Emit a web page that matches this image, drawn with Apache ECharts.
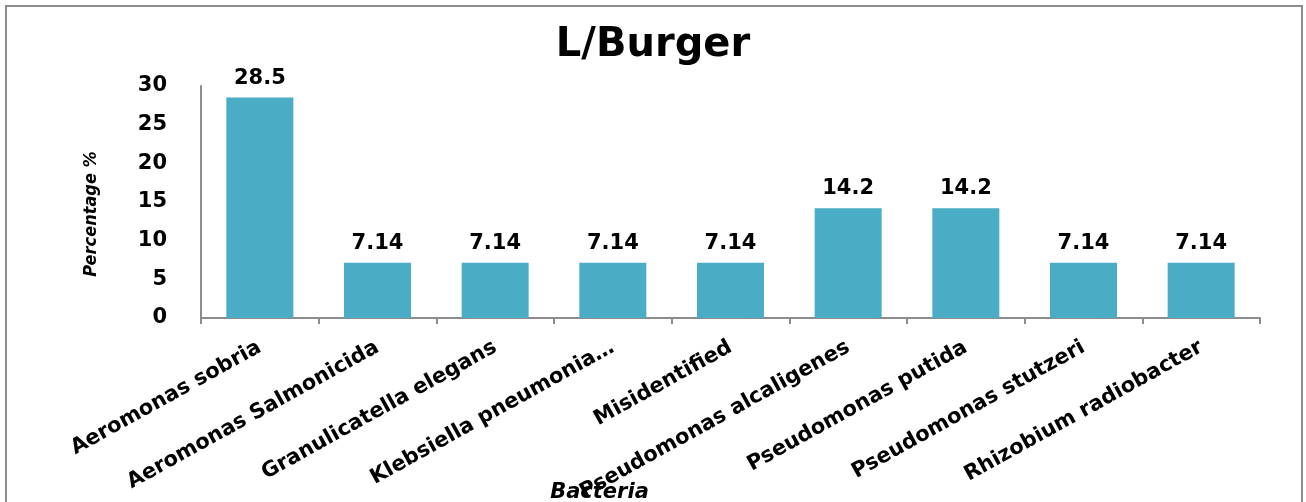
<!DOCTYPE html>
<html>
<head>
<meta charset="utf-8">
<script src="https://cdn.jsdelivr.net/npm/echarts@6/dist/echarts.min.js"></script>
<style>html,body{margin:0;padding:0;background:#fff;}#c{width:1306px;height:502px;}</style>
</head>
<body>
<div id="c"></div>
<script>
const title = 'L/Burger';
const categories = ['Aeromonas sobria','Aeromonas Salmonicida','Granulicatella elegans','Klebsiella pneumonia…','Misidentified','Pseudomonas alcaligenes','Pseudomonas putida','Pseudomonas stutzeri','Rhizobium radiobacter'];
const values = [28.5, 7.14, 7.14, 7.14, 7.14, 14.2, 14.2, 7.14, 7.14];
const valueLabels = ['28.5','7.14','7.14','7.14','7.14','14.2','14.2','7.14','7.14'];
const yAxisName = 'Percentage %';
const xAxisName = 'Bacteria';

const chart = echarts.init(document.getElementById('c'), null, {renderer:'canvas'});
chart.setOption({
  animation:false,
  backgroundColor:'#fff',
  graphic:[{type:'rect', shape:{x:6,y:6,width:1296,height:520}, style:{fill:'none', stroke:'#8c8c8c', lineWidth:2}, silent:true, z:-1}],
  title:{text:title, left:'center', top:21, textStyle:{fontFamily:'DejaVu Sans', fontWeight:'bold', fontSize:40, color:'#000'}},
  grid:{left:201, right:46, top:86, bottom:184, containLabel:false, outerBoundsMode:'none'},
  xAxis:{type:'category', data:categories,
    name:xAxisName, nameLocation:'middle', nameGap:164, nameMoveOverlap:false,
    nameTextStyle:{fontFamily:'DejaVu Sans', fontStyle:'italic', fontWeight:'bold', fontSize:21, color:'#000', padding:[0,262,0,0]},
    axisLine:{lineStyle:{color:'#8c8c8c', width:2}},
    axisTick:{show:true, length:6, alignWithLabel:false, lineStyle:{color:'#8c8c8c', width:2}},
    axisLabel:{rotate:29, margin:28, interval:0, fontFamily:'DejaVu Sans', fontStyle:'normal', fontWeight:'bold', fontSize:21, color:'#000'}
  },
  yAxis:{type:'value', min:0, max:30, interval:5,
    name:yAxisName, nameLocation:'middle', nameGap:101, nameRotate:90, nameMoveOverlap:false,
    nameTextStyle:{fontFamily:'DejaVu Sans Condensed, DejaVu Sans', fontStyle:'italic', fontWeight:'bold', fontSize:18, color:'#000', padding:[0,24,0,0]},
    axisLine:{show:true, lineStyle:{color:'#8c8c8c', width:2}},
    axisTick:{show:false},
    splitLine:{show:false},
    axisLabel:{margin:34, fontFamily:'DejaVu Sans', fontWeight:'bold', fontSize:21, color:'#000'}
  },
  series:[{type:'bar', data:values, barWidth:67,
    itemStyle:{color:'#4BACC6'},
    label:{show:true, position:'top', distance:9, formatter:p=>valueLabels[p.dataIndex],
      fontFamily:'DejaVu Sans', fontWeight:'bold', fontSize:21, color:'#000'}
  }]
});
</script>
</body>
</html>
